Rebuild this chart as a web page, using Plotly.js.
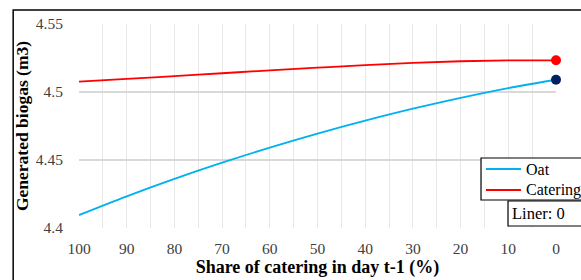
<!DOCTYPE html>
<html>
<head>
<meta charset="utf-8">
<script src="https://cdn.plot.ly/plotly-3.0.1.min.js"></script>
<style>html,body{margin:0;padding:0;background:#fff;}#chart{width:581px;height:280px;}</style>
</head>
<body>
<div id="chart"></div>
<script>
const shareCatering = [100, 90, 80, 70, 60, 50, 40, 30, 20, 10, 0];
const oatBiogas = [4.4095, 4.4233, 4.4361, 4.4480, 4.4591, 4.4694, 4.4789, 4.4877, 4.4957, 4.5029, 4.5090];
const cateringBiogas = [4.5076, 4.5096, 4.5117, 4.5138, 4.5159, 4.5179, 4.5198, 4.5214, 4.5226, 4.5232, 4.5233];
const seriesNames = ["Oat", "Catering"];
const seriesColors = ["#00B0F0", "#FF0000"];
const xTickVals = [100, 90, 80, 70, 60, 50, 40, 30, 20, 10, 0];
const yTickVals = [4.4, 4.45, 4.5, 4.55];
const yTickText = ["4.4", "4.45", "4.5", "4.55"];
const linerLabel = "Liner: 0";
const lastIdx = shareCatering.length - 1;

const serif = "'Liberation Serif', 'Times New Roman', serif";

const traces = [
  {x: shareCatering, y: oatBiogas, name: seriesNames[0], mode: "lines", line: {color: seriesColors[0], width: 1.8, shape: "spline", smoothing: 1}},
  {x: shareCatering, y: cateringBiogas, name: seriesNames[1], mode: "lines", line: {color: seriesColors[1], width: 1.8, shape: "spline", smoothing: 1}},
  {x: [shareCatering[lastIdx]], y: [oatBiogas[lastIdx]], mode: "markers", showlegend: false, marker: {color: "#002060", size: 10}, cliponaxis: false},
  {x: [shareCatering[lastIdx]], y: [cateringBiogas[lastIdx]], mode: "markers", showlegend: false, marker: {color: "#FF0000", size: 10}, cliponaxis: false}
];

// custom legend box (paper coordinates)
const legX0 = 0.8428, legX1 = 1.2, legY0 = 0.1373, legY1 = 0.3431;
const legSampleX0 = 0.8532, legSampleX1 = 0.9266, legTextX = 0.9329;
const legRowY = [0.2892, 0.1863];

const shapes = [
  {type: "rect", xref: "paper", yref: "paper", x0: -0.138, x1: 1.3, y0: -0.6, y1: 1.069,
   line: {color: "#000", width: 1.5}, layer: "above"},
  {type: "rect", xref: "paper", yref: "paper", x0: legX0, x1: legX1, y0: legY0, y1: legY1,
   line: {color: "#000", width: 1.2}, fillcolor: "#ffffff", layer: "above"},
  {type: "rect", xref: "paper", yref: "paper", x0: 0.8994, x1: 1.2, y0: 0.0098, y1: 0.1324,
   line: {color: "#000", width: 1.2}, fillcolor: "#ffffff", layer: "above"}
];
const annotations = [];
seriesNames.forEach((nm, i) => {
  shapes.push({type: "line", xref: "paper", yref: "paper", x0: legSampleX0, x1: legSampleX1, y0: legRowY[i], y1: legRowY[i],
    line: {color: seriesColors[i], width: 2}, layer: "above"});
  annotations.push({xref: "paper", yref: "paper", x: legTextX, y: legRowY[i], xanchor: "left", yanchor: "middle",
    text: nm, showarrow: false, font: {family: serif, size: 16, color: "#000"}});
});
annotations.push({
  xref: "paper", yref: "paper", x: 0.9036, y: 0.0711, xanchor: "left", yanchor: "middle",
  text: linerLabel, showarrow: false, align: "left",
  font: {family: serif, size: 16.5, color: "#000"}
});

const layout = {
  width: 581, height: 280,
  margin: {l: 79, r: 25, t: 24, b: 52, autoexpand: false},
  paper_bgcolor: "#ffffff", plot_bgcolor: "#ffffff",
  font: {family: serif, size: 15, color: "#404040"},
  xaxis: {
    range: [100, 0], tickvals: xTickVals, ticktext: xTickVals.map(String),
    showgrid: true, gridcolor: "#e8e8e8", gridwidth: 1,
    minor: {dtick: 5, showgrid: true, gridcolor: "#e8e8e8", gridwidth: 1},
    zeroline: false, showline: false, ticks: "outside", ticklen: 6, tickcolor: "rgba(0,0,0,0)",
    tickfont: {family: serif, size: 15.5, color: "#404040"},
    title: {text: "<b>Share of catering in day t-1 (%)</b>", font: {family: serif, size: 18, color: "#000"}, standoff: 3}
  },
  yaxis: {
    range: [4.4, 4.55], tickvals: yTickVals, ticktext: yTickText,
    showgrid: true, gridcolor: "#d9d9d9", gridwidth: 1.3,
    zeroline: false, showline: false, ticks: "outside", ticklen: 12, tickcolor: "rgba(0,0,0,0)",
    tickfont: {family: serif, size: 15.5, color: "#404040"},
    title: {text: "<b>Generated biogas (m3)</b>", font: {family: serif, size: 17.5, color: "#000"}, standoff: 2}
  },
  showlegend: false,
  annotations: annotations,
  shapes: shapes
};

Plotly.newPlot("chart", traces, layout, {staticPlot: true, displayModeBar: false});
</script>
</body>
</html>
